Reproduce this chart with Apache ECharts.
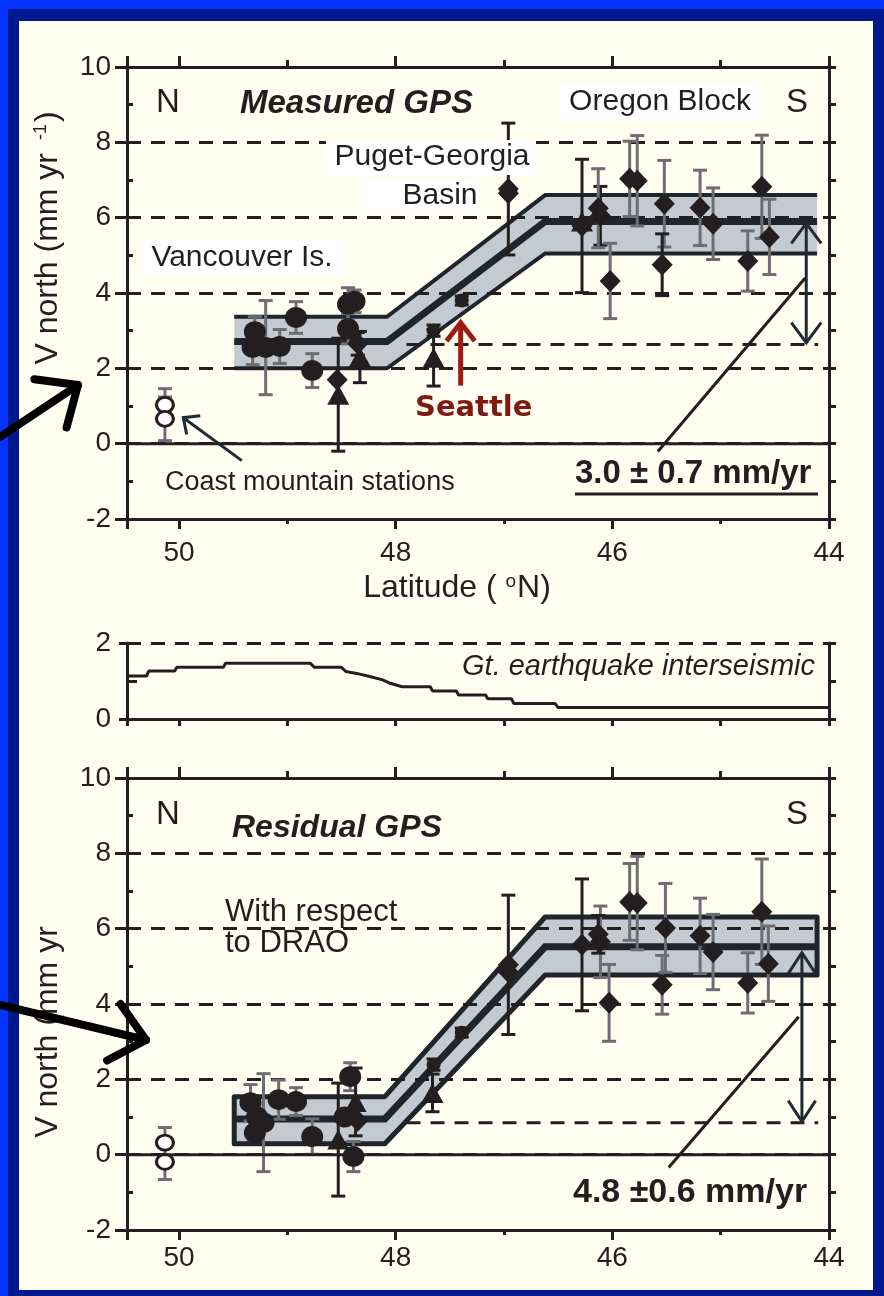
<!DOCTYPE html>
<html><head><meta charset="utf-8">
<script src="https://cdn.jsdelivr.net/npm/echarts@6/dist/echarts.min.js"></script>
<style>
html,body{margin:0;padding:0;background:#0433ff;overflow:hidden}
#frame{position:absolute;left:8px;top:9px;width:876px;height:1287px;background:#00188f}
#cream{position:absolute;left:19px;top:21px;width:854px;height:1269px;background:#fffef0}
#c{position:absolute;left:0;top:0;width:884px;height:1296px}
</style></head>
<body><div id="frame"></div><div id="cream"></div><div id="c"></div>
<script>
// ---------------- DATA ----------------
const xTickLabels = [50, 48, 46, 44];
const LAT_MIN = 44, LAT_MAX = 50.48;

// Measured GPS (top panel): latitude, V north, error half-width, marker shape, grey error bar flag
const measLat  = [50.13,50.13,49.30,49.32,49.20,49.07,48.92,48.77,48.44,48.44,48.38,48.53,48.54,48.33,48.35,47.65,47.65,47.39,46.96,46.96,46.28,46.28,46.11,46.13,46.02,45.84,45.77,45.52,45.54,45.19,45.07,44.75,44.62,44.55];
const measV    = [1.03,0.66,2.97,2.55,2.55,2.58,3.35,1.94,3.70,3.05,3.78,1.30,1.70,2.30,2.65,3.00,2.28,3.80,6.76,6.65,5.78,5.90,6.05,6.25,4.32,7.03,6.98,6.37,4.75,6.26,5.84,4.85,6.82,5.49];
const measErr  = [0.43,0.58,0.40,0.45,1.25,0.45,0.42,0.45,0.44,0.40,0.30,1.50,0,0.68,0.30,0.15,0.75,0.12,1.75,0,1.77,0,0.78,1.05,1.00,1.00,1.20,1.15,0.82,1.00,0.95,0.80,1.37,1.00];
const measShape= ['o','o','c','c','c','c','c','c','c','c','c','t','d','t','d','s','t','s','d','d','d','t','d','d','d','d','d','d','d','d','d','d','d','d'];
const measGray = [1,1,1,1,1,1,1,1,1,1,1,0,0,0,0,0,0,0,0,0,0,1,0,1,1,1,1,1,0,1,1,1,1,1];

// Residual GPS (bottom panel)
const resLat   = [50.13,50.13,49.34,49.28,49.30,49.22,49.08,48.92,48.77,48.42,48.39,48.53,48.37,48.47,48.35,47.66,47.65,47.39,46.96,46.96,46.28,46.11,46.13,46.03,45.84,45.77,45.51,45.54,45.19,45.07,44.75,44.62,44.56];
const resV     = [0.32,-0.19,1.38,1.00,0.58,0.85,1.46,1.41,0.48,2.07,-0.05,0.40,1.40,1.00,0.90,1.64,2.39,3.24,5.04,4.85,5.57,5.65,5.85,4.03,6.71,6.68,6.02,4.51,5.81,5.38,4.56,6.45,5.07];
const resErr   = [0.40,0.47,0.48,0,0,1.30,0.52,0.37,0.47,0.37,0.40,1.50,0.90,0,0,0.50,0.15,0.12,1.85,0,1.75,0.95,0.50,1.02,1.02,1.24,1.18,0.78,1.00,1.00,0.80,1.40,1.00];
const resShape = ['o','o','c','c','c','c','c','c','c','c','c','t','t','c','d','t','s','s','d','d','d','d','d','d','d','d','d','d','d','d','d','d','d'];
const resGray  = [1,1,1,1,1,1,1,1,1,1,1,0,0,0,0,0,0,0,0,0,0,1,0,1,1,1,1,1,1,1,1,1,1];

// Model band (top): latitude knots, upper / centre / lower velocity
const bandLatTop = [49.49, 48.08, 46.62, 44.11];
const bandUpTop  = [3.37, 3.37, 6.60, 6.60];
const bandMidTop = [2.71, 2.71, 5.90, 5.90];
const bandLoTop  = [2.00, 2.00, 5.05, 5.05];
// Model band (bottom)
const bandLatBot = [49.49, 48.10, 46.62, 44.11];
const bandUpBot  = [1.54, 1.54, 6.31, 6.31];
const bandMidBot = [0.95, 0.95, 5.52, 5.52];
const bandLoBot  = [0.29, 0.29, 4.77, 4.77];

// Great earthquake interseismic (middle panel)
const gtLat = [50.48,50.30,50.28,50.04,50.02,49.59,49.57,48.79,48.75,48.50,48.46,48.36,48.23,48.12,48.05,47.94,47.68,47.66,47.44,47.42,47.17,47.15,46.93,46.91,46.53,46.50,44.00];
const gtV   = [1.13,1.13,1.26,1.26,1.36,1.36,1.47,1.47,1.36,1.36,1.25,1.20,1.11,1.03,0.94,0.85,0.85,0.74,0.74,0.63,0.63,0.53,0.53,0.41,0.41,0.30,0.30];

// Annotation lines (data coordinates: [lat, V])
const zeroLine      = [[50.48,0],[44,0]];
const offsetLineTop = [[47.9,2.63],[44.1,2.63]];
const offsetLineBot = [[47.9,0.85],[44.1,0.85]];
const arrowTop      = [[44.21,5.85],[44.21,2.68]];
const arrowBot      = [[44.25,5.36],[44.25,0.88]];
const leaderTop     = [[45.58,-0.21],[44.22,4.40]];
const leaderBot     = [[45.48,-0.34],[44.28,3.66]];
const seattleArrow  = [[47.40,1.54],[47.40,3.21]];
const coastArrowTop = [[49.42,-0.45],[49.96,0.69]];

// ---------------- STYLE ----------------
const INK = '#231f20', GRAY = '#6d6e71', BAND = '#c5cad2', BANDLINE = '#1f252b', SLATE = '#1f2a33', RED = '#9b1b10';
const FONT = "'Liberation Sans', Arial, sans-serif";

const chart = echarts.init(document.getElementById('c'), null, {renderer:'canvas'});

function xAxesMain(g, margin){
  const base = {gridIndex:g, type:'value', min:LAT_MIN, max:LAT_MAX, inverse:true, z:3, splitLine:{show:false}};
  return [
    Object.assign({}, base, {position:'bottom', interval:2,
      axisLine:{show:true,onZero:false,lineStyle:{color:INK,width:3}},
      axisTick:{show:true,length:10,lineStyle:{color:INK,width:3}},
      axisLabel:{show:true,margin:margin,fontSize:28,fontFamily:FONT,color:INK,
        formatter:v=>xTickLabels.indexOf(v)>=0?String(v):''}}),
    Object.assign({}, base, {position:'bottom', interval:1, axisLine:{show:false,onZero:false},
      axisTick:{show:true,length:5,lineStyle:{color:INK,width:3}}, axisLabel:{show:false}}),
    Object.assign({}, base, {position:'top', interval:2,
      axisLine:{show:true,onZero:false,lineStyle:{color:INK,width:3}},
      axisTick:{show:true,length:11,lineStyle:{color:INK,width:3}}, axisLabel:{show:false}}),
    Object.assign({}, base, {position:'top', interval:1, axisLine:{show:false,onZero:false},
      axisTick:{show:true,length:7,lineStyle:{color:INK,width:3}}, axisLabel:{show:false}})
  ];
}
function yAxesMain(g){
  const base = {gridIndex:g, type:'value', min:-2, max:10, z:3};
  return [
    Object.assign({}, base, {position:'left', interval:2,
      axisLine:{show:true,onZero:false,lineStyle:{color:INK,width:3}},
      axisTick:{show:true,length:12,lineStyle:{color:INK,width:3}},
      axisLabel:{margin:16,fontSize:28,fontFamily:FONT,color:INK},
      splitLine:{show:true,lineStyle:{color:INK,width:3,type:[14,10]}}}),
    Object.assign({}, base, {position:'left', interval:1, axisLine:{show:false,onZero:false},
      axisTick:{show:true,inside:true,length:6,lineStyle:{color:INK,width:3}}, axisLabel:{show:false}, splitLine:{show:false}}),
    Object.assign({}, base, {position:'right', interval:1,
      axisLine:{show:true,onZero:false,lineStyle:{color:INK,width:3}},
      axisTick:{show:true,length:7,lineStyle:{color:INK,width:3}}, axisLabel:{show:false}, splitLine:{show:false}})
  ];
}

const xAxes = [].concat(
  xAxesMain(0, 20),
  [{gridIndex:1, type:'value', min:LAT_MIN, max:LAT_MAX, inverse:true, position:'bottom', interval:1, z:3,
    axisLine:{show:true,onZero:false,lineStyle:{color:INK,width:3}},
    axisTick:{show:true,length:7,lineStyle:{color:INK,width:3}}, axisLabel:{show:false}, splitLine:{show:false}}],
  xAxesMain(2, 14)
);
const yAxes = [].concat(
  yAxesMain(0),
  [
    {gridIndex:1, type:'value', min:0, max:2, interval:2, position:'left', z:3,
      axisLine:{show:true,onZero:false,lineStyle:{color:INK,width:3}},
      axisTick:{show:true,length:8,lineStyle:{color:INK,width:3}},
      axisLabel:{margin:16,fontSize:28,fontFamily:FONT,color:INK},
      splitLine:{show:true,lineStyle:{color:INK,width:3,type:[14,10]}}},
    {gridIndex:1, type:'value', min:0, max:2, interval:1, position:'left', z:3,
      axisLine:{show:false,onZero:false}, axisTick:{show:true,inside:true,length:10,lineStyle:{color:INK,width:3}},
      axisLabel:{show:false}, splitLine:{show:false}},
    {gridIndex:1, type:'value', min:0, max:2, interval:1, position:'right', z:3,
      axisLine:{show:true,onZero:false,lineStyle:{color:INK,width:3}},
      axisTick:{show:true,length:7,lineStyle:{color:INK,width:3}}, axisLabel:{show:false}, splitLine:{show:false}}
  ],
  yAxesMain(2)
);
// axis indices used by series
const AX = {top:{x:0,y:0}, mid:{x:4,y:3}, bot:{x:5,y:6}};

function bandSeries(ax, lat, up, mid, lo, closed){
  return {type:'custom', xAxisIndex:ax.x, yAxisIndex:ax.y, z:1, silent:true, clip:false,
    data:[[lat[1], mid[1]]], encode:{x:0,y:1},
    renderItem(p, api){
      const U = lat.map((x,i)=>api.coord([x, up[i]]));
      const M = lat.map((x,i)=>api.coord([x, mid[i]]));
      const L = lat.map((x,i)=>api.coord([x, lo[i]]));
      const poly = U.concat(L.slice().reverse());
      const ch = [{type:'polygon', shape:{points:poly},
        style:{fill:BAND, stroke: closed?BANDLINE:null, lineWidth: closed?5:0, lineJoin:'round'}}];
      if(!closed){
        ch.push({type:'polyline', shape:{points:U}, style:{stroke:BANDLINE,lineWidth:4,fill:null}});
        ch.push({type:'polyline', shape:{points:L}, style:{stroke:BANDLINE,lineWidth:4,fill:null}});
      }
      ch.push({type:'polyline', shape:{points:M}, style:{stroke:BANDLINE,lineWidth:7,fill:null}});
      return {type:'group', children:ch};
    }};
}

function errSeries(ax, lat, v, err, gray){
  const data = lat.map((x,i)=>[x, v[i], err[i], gray[i]]);
  return {type:'custom', xAxisIndex:ax.x, yAxisIndex:ax.y, z:4, silent:true, clip:false,
    data, encode:{x:0,y:1},
    renderItem(p, api){
      const x=api.value(0), y=api.value(1), e=api.value(2), g=api.value(3);
      if(!e) return null;
      const t=api.coord([x,y+e]), b=api.coord([x,y-e]);
      const col = g ? GRAY : INK, cw = 7;
      const st = {stroke:col, lineWidth:3};
      return {type:'group', children:[
        {type:'line', shape:{x1:t[0],y1:t[1],x2:b[0],y2:b[1]}, style:st},
        {type:'line', shape:{x1:t[0]-cw,y1:t[1],x2:t[0]+cw,y2:t[1]}, style:st},
        {type:'line', shape:{x1:b[0]-cw,y1:b[1],x2:b[0]+cw,y2:b[1]}, style:st}
      ]};
    }};
}

const SHAPES = {
  c:{symbol:'circle', size:[22,21], item:{color:INK, opacity:1}},
  s:{symbol:'circle', size:14, item:{color:INK, opacity:1}},
  d:{symbol:'diamond', size:[21,22], item:{color:INK, opacity:1}},
  t:{symbol:'triangle', size:[22,20], item:{color:INK, opacity:1}},
  o:{symbol:'circle', size:[17,15], item:{color:'#ffffff', borderColor:INK, borderWidth:3, opacity:1}}
};
function scatterSeries(ax, lat, v, shape, key){
  const data = [];
  lat.forEach((x,i)=>{ if(shape[i]===key) data.push([x, v[i]]); });
  const s = SHAPES[key];
  return {type:'scatter', xAxisIndex:ax.x, yAxisIndex:ax.y, z:5, silent:true, clip:false,
    data, symbol:s.symbol, symbolSize:s.size, itemStyle:s.item, emphasis:{disabled:true}};
}

function chevron(tip, from, len, ang, stroke, w){
  const dx=from[0]-tip[0], dy=from[1]-tip[1], d=Math.hypot(dx,dy), ux=dx/d, uy=dy/d;
  const c=Math.cos(ang), s=Math.sin(ang);
  const p1=[tip[0]+len*(ux*c-uy*s), tip[1]+len*(ux*s+uy*c)];
  const p2=[tip[0]+len*(ux*c+uy*s), tip[1]+len*(-ux*s+uy*c)];
  return {type:'polyline', shape:{points:[p1,tip,p2]}, style:{stroke, lineWidth:w, fill:null, lineJoin:'miter', lineCap:'butt'}};
}
function seg(a,b,stroke,w,dash){
  return {type:'line', shape:{x1:a[0],y1:a[1],x2:b[0],y2:b[1]}, style:{stroke, lineWidth:w, lineDash:dash||null}};
}

// items: {pts, color, width, dash, head:'end'|'both'|null, hl, ha}
function annoSeries(ax, items){
  return {type:'custom', xAxisIndex:ax.x, yAxisIndex:ax.y, z:6, silent:true, clip:false,
    data:[[47,4]], encode:{x:0,y:1},
    renderItem(p, api){
      const ch=[];
      items.forEach(it=>{
        const a=api.coord(it.pts[0]), b=api.coord(it.pts[1]);
        ch.push(seg(a,b,it.color,it.width,it.dash));
        if(it.head==='end'||it.head==='both') ch.push(chevron(b,a,it.hl,it.ha,it.color,it.width));
        if(it.head==='both') ch.push(chevron(a,b,it.hl,it.ha,it.color,it.width));
      });
      return {type:'group', children:ch};
    }};
}

const series = [
  bandSeries(AX.top, bandLatTop, bandUpTop, bandMidTop, bandLoTop, false),
  annoSeries(AX.top, [
    {pts:zeroLine, color:INK, width:3},
    {pts:offsetLineTop, color:INK, width:3, dash:[14,10]},
    {pts:arrowTop, color:SLATE, width:3, head:'both', hl:25, ha:0.64},
    {pts:leaderTop, color:INK, width:3},
    {pts:seattleArrow, color:RED, width:5, head:'end', hl:23, ha:0.66},
    {pts:coastArrowTop, color:SLATE, width:3, head:'end', hl:17, ha:0.74}
  ]),
  errSeries(AX.top, measLat, measV, measErr, measGray),
  ...['o','c','s','t','d'].map(k=>scatterSeries(AX.top, measLat, measV, measShape, k)),

  {type:'line', xAxisIndex:AX.mid.x, yAxisIndex:AX.mid.y, z:5, silent:true, showSymbol:false, symbol:'none',
   data: gtLat.map((x,i)=>[x, gtV[i]]), lineStyle:{color:INK, width:3, opacity:1}},

  bandSeries(AX.bot, bandLatBot, bandUpBot, bandMidBot, bandLoBot, true),
  annoSeries(AX.bot, [
    {pts:zeroLine, color:INK, width:3},
    {pts:offsetLineBot, color:INK, width:3, dash:[14,10]},
    {pts:arrowBot, color:SLATE, width:3, head:'both', hl:25, ha:0.58},
    {pts:leaderBot, color:INK, width:3}
  ]),
  errSeries(AX.bot, resLat, resV, resErr, resGray),
  ...['o','c','s','t','d'].map(k=>scatterSeries(AX.bot, resLat, resV, resShape, k))
];

// ---------------- TEXT / GRAPHICS ----------------
function txt(x,y,s,font,align,fill){
  return {type:'text', x, y, z:100, silent:true,
    style:{text:s, font:font+' '+FONT, fill:fill||INK, align:align||'left', verticalAlign:'middle'}};
}
function box(x,y,w,h){ return {type:'rect', z:99, silent:true, shape:{x,y,width:w,height:h}, style:{fill:'#ffffff'}}; }
function bigArrow(from, tip){
  const sh = {type:'line', z:120, silent:true, shape:{x1:from[0],y1:from[1],x2:tip[0],y2:tip[1]},
    style:{stroke:'#000', lineWidth:8, lineCap:'round'}};
  const hd = chevron(tip, from, 44, 0.72, '#000', 8);
  hd.z = 120; hd.silent = true; hd.style.lineCap = 'round'; hd.style.lineJoin = 'round';
  return [sh, hd];
}

const graphics = [
  // top panel
  txt(168,103,'N','33px','center'),
  txt(797,103,'S','33px','center'),
  txt(240,104,'Measured GPS','italic bold 33px'),
  box(560,84,200,36), txt(660,102,'Oregon Block','30px','center'),
  box(326,140,210,35), txt(432,157,'Puget-Georgia','30px','center'),
  box(366,179,112,34), txt(440,196,'Basin','30px','center'),
  box(141,240,201,36), txt(242,258,'Vancouver Is.','30px','center'),
  txt(165,483,'Coast mountain stations','27px'),
  {type:'text', x:415, y:408, z:100, silent:true,
   style:{text:'Seattle', font:"bold 29px 'DejaVu Sans', sans-serif", fill:'#7f1a12', align:'left', verticalAlign:'middle'}},
  txt(575,474,'3.0 ± 0.7 mm/yr','bold 33px'),
  {type:'line', z:100, silent:true, shape:{x1:575,y1:494,x2:818,y2:494}, style:{stroke:INK,lineWidth:3}},
  {type:'text', x:48, y:238, rotation:Math.PI/2, z:100, silent:true,
   style:{text:'V north (mm yr {s|-1}{n|)}', font:'32px '+FONT, fill:INK, align:'center', verticalAlign:'middle',
     rich:{s:{fontSize:18, fontFamily:FONT, fill:INK, verticalAlign:'top', padding:[0,2,12,4]},
           n:{fontSize:32, fontFamily:FONT, fill:INK}}}},
  {type:'text', x:457, y:588, z:100, silent:true,
   style:{text:'Latitude ( {s|o}N)', font:'32px '+FONT, fill:INK, align:'center', verticalAlign:'middle',
     rich:{s:{fontSize:19, fontFamily:FONT, fill:INK, verticalAlign:'top', padding:[0,1,12,0]}}}},
  // middle
  txt(815,667,'Gt. earthquake interseismic','italic 29px','right'),
  // bottom panel
  txt(168,815,'N','33px','center'),
  txt(797,815,'S','33px','center'),
  txt(232,828,'Residual GPS','italic bold 32px'),
  txt(225,912,'With respect','31px'),
  txt(225,943,'to DRAO','31px'),
  txt(573,1193,'4.8 ±0.6 mm/yr','bold 34px'),
  {type:'text', x:48, y:1032, rotation:Math.PI/2, z:100, silent:true,
   style:{text:'V north (mm yr', font:'32px '+FONT, fill:INK, align:'center', verticalAlign:'middle'}},
  ...bigArrow([0,437],[78,385]),
  ...bigArrow([0,1005],[146,1040])
];

chart.setOption({
  animation:false,
  backgroundColor:'transparent',
  grid:[
    {left:127, top:67, width:702, height:452, outerBoundsMode:'none', containLabel:false},
    {left:127, top:643, width:702, height:76, outerBoundsMode:'none', containLabel:false},
    {left:127, top:778, width:702, height:452, outerBoundsMode:'none', containLabel:false}
  ],
  xAxis:xAxes,
  yAxis:yAxes,
  series,
  graphic:graphics
});
</script>
</body></html>
